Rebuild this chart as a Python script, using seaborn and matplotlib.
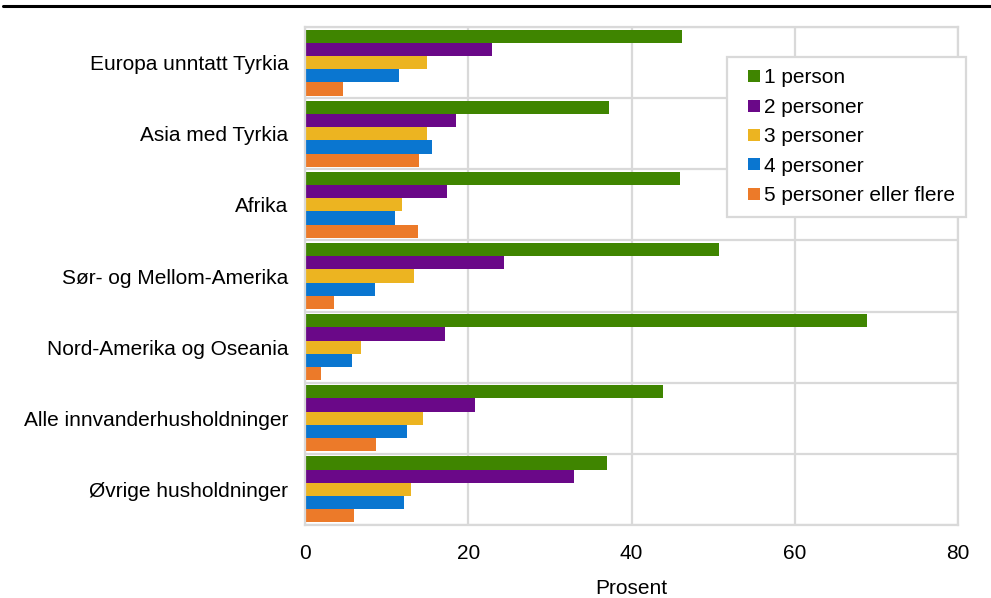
import pandas as pd
import matplotlib.pyplot as plt
from matplotlib.lines import Line2D
import seaborn as sns

# Kategorier og serier
regioner = ['Europa unntatt Tyrkia', 'Asia med Tyrkia', 'Afrika',
            'Sør- og Mellom-Amerika', 'Nord-Amerika og Oseania',
            'Alle innvanderhusholdninger', 'Øvrige husholdninger']
serier = ['1 person', '2 personer', '3 personer', '4 personer', '5 personer eller flere']

p1 = [46.2, 37.2, 46.0, 50.7, 68.8, 43.9, 37.0]
p2 = [22.9, 18.5, 17.4, 24.4, 17.2, 20.8, 33.0]
p3 = [14.9, 15.0, 11.9, 13.4, 6.9, 14.4, 13.0]
p4 = [11.5, 15.5, 11.0, 8.6, 5.7, 12.5, 12.1]
p5 = [4.6, 14.0, 13.8, 3.5, 2.0, 8.7, 6.0]

farger = ['#3f8500', '#6a0888', '#ecb421', '#0a76d0', '#ec7a29']

rader = []
for navn, verdier in zip(serier, [p1, p2, p3, p4, p5]):
    for reg, v in zip(regioner, verdier):
        rader.append({'region': reg, 'serie': navn, 'prosent': v})
df = pd.DataFrame(rader)

sns.set_style('white')
plt.rcParams['font.family'] = ['Liberation Sans', 'DejaVu Sans']
plt.rcParams['text.color'] = 'black'

fig = plt.figure(figsize=(9.91, 5.98), dpi=100)
ax = fig.add_axes([0.3078, 0.1221, 0.6589, 0.8327])

sns.barplot(data=df, y='region', x='prosent', hue='serie', orient='h',
            palette=farger, width=0.93, gap=0, saturation=1, linewidth=0,
            order=regioner, hue_order=serier, ax=ax, legend=False)

ax.set_xlim(0, 80)
ax.set_ylim(6.5, -0.5)
ax.set_xticks([0, 20, 40, 60, 80])
ax.set_yticks([i + 0.5 for i in range(-1, 7)], minor=True)
ax.grid(False)
ax.grid(True, axis='x', which='major', color='#d9d9d9', linewidth=1.6)
ax.grid(True, axis='y', which='minor', color='#d9d9d9', linewidth=1.6)
ax.set_axisbelow(True)
for s in ax.spines.values():
    s.set_color('#d9d9d9')
    s.set_linewidth(1.6)
ax.tick_params(axis='both', which='both', length=0, labelsize=15, labelcolor='black')
ax.tick_params(axis='y', pad=12)
ax.tick_params(axis='x', pad=14)
ax.set_ylabel('')
ax.set_xlabel('Prosent', fontsize=15, labelpad=11, color='black')

# legende med små kvadrater
handles = [Line2D([], [], marker='s', linestyle='', markersize=8.5,
                  markerfacecolor=c, markeredgewidth=0) for c in farger]
leg = ax.legend(handles, serier, loc='upper right',
                bbox_to_anchor=(966 / 991, 1 - 57 / 598),
                bbox_transform=fig.transFigure, fontsize=15, frameon=True,
                fancybox=False, edgecolor='#d9d9d9', framealpha=1,
                handlelength=1.5, handletextpad=-0.3,
                labelspacing=0.5, borderpad=0.55, borderaxespad=0)
leg.get_frame().set_linewidth(1.6)

# svart strek øverst
fig.add_artist(Line2D([0.003, 1.0], [1 - 6 / 598, 1 - 6 / 598],
                      color='black', linewidth=2.2, transform=fig.transFigure))

fig.savefig('out.png', dpi=100)
